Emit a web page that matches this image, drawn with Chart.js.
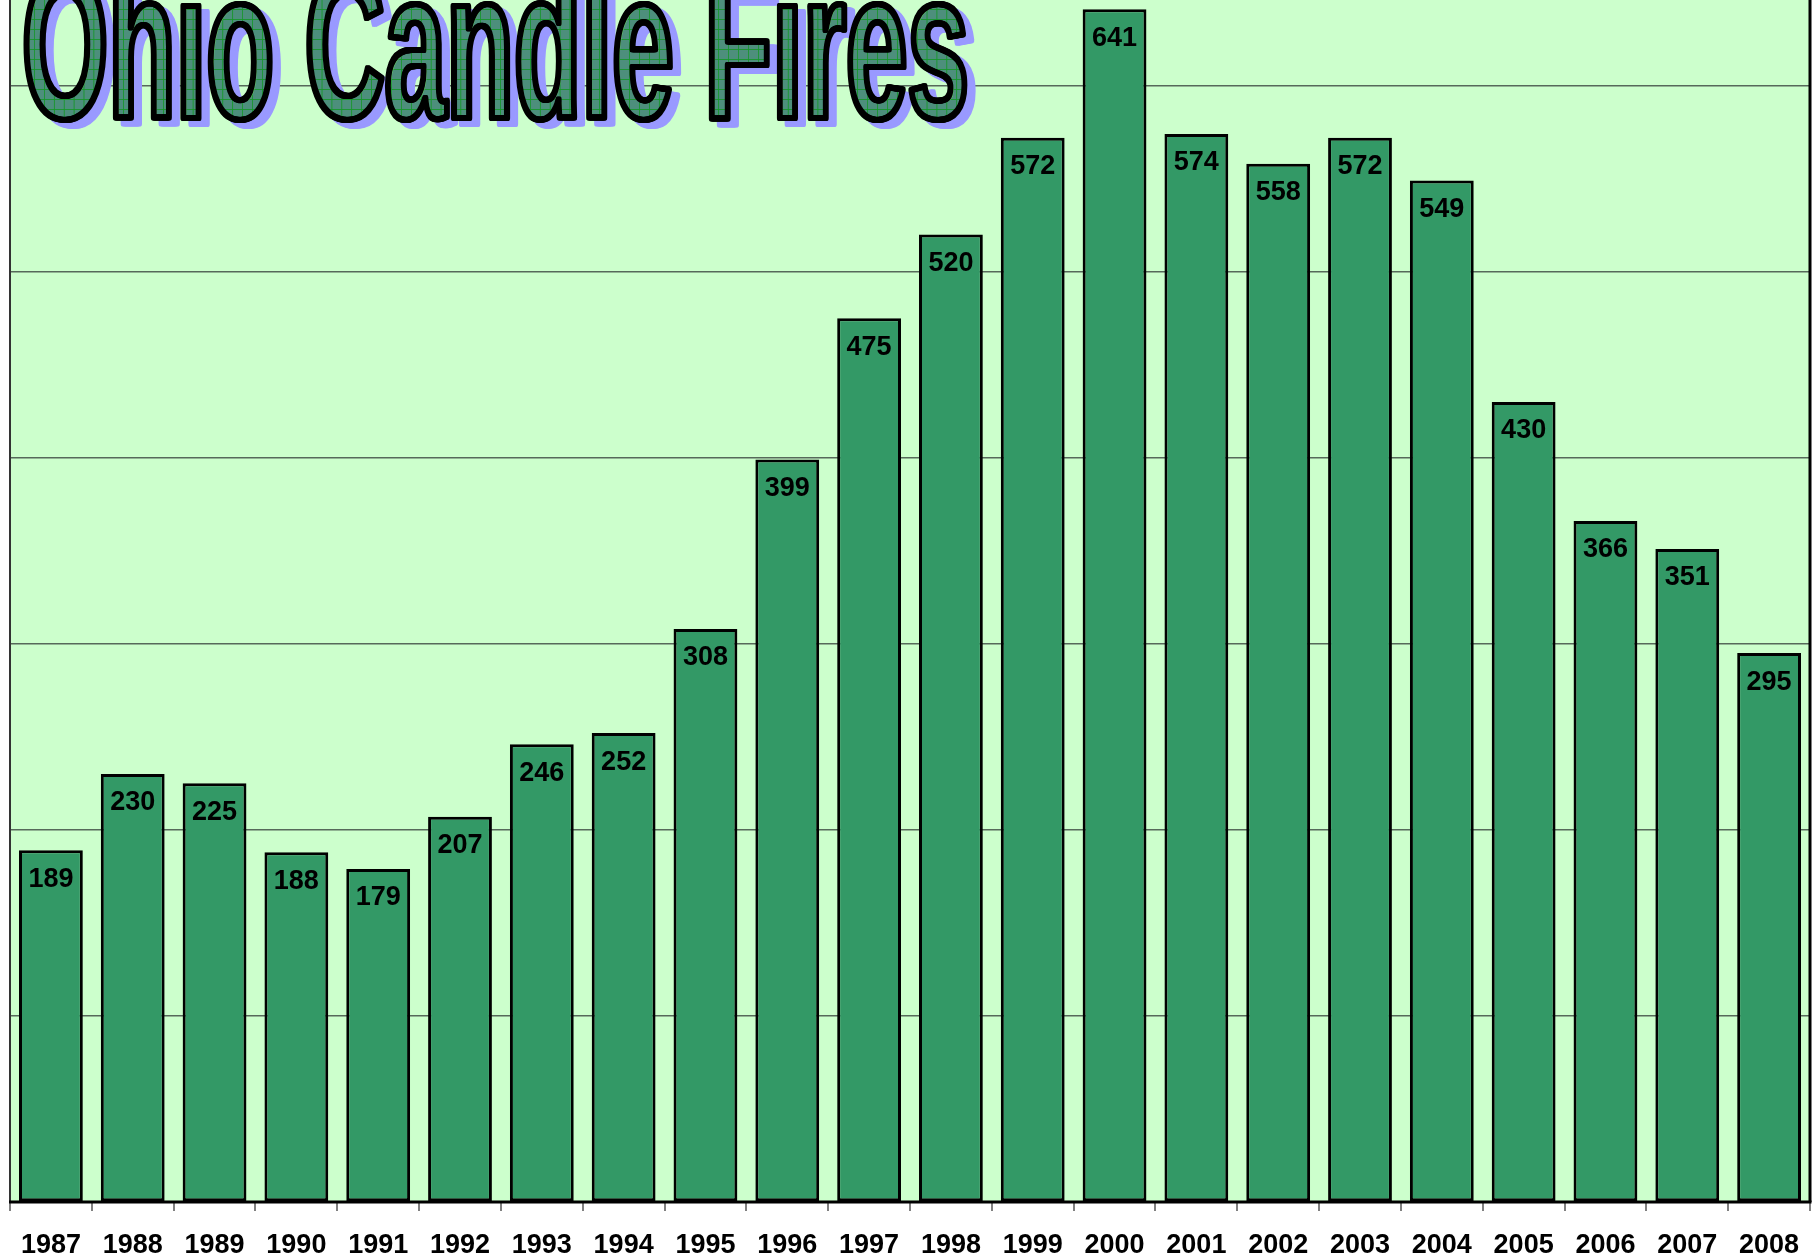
<!DOCTYPE html>
<html>
<head>
<meta charset="utf-8">
<title>Ohio Candle Fires</title>
<script src="https://cdn.jsdelivr.net/npm/chart.js@4/dist/chart.umd.min.js"></script>
<style>
  html, body { margin: 0; padding: 0; background: #ffffff; }
  #wrap { width: 1818px; height: 1257px; position: relative; }
</style>
</head>
<body>
<div id="wrap"><canvas id="c" width="1818" height="1257" aria-label="Ohio Candle Fires"></canvas></div>
<script>
// ---- data ----
const chartTitle = 'Ohio Candle Fires';
const years = ['1987','1988','1989','1990','1991','1992','1993','1994','1995','1996','1997',
               '1998','1999','2000','2001','2002','2003','2004','2005','2006','2007','2008'];
const fires = [189, 230, 225, 188, 179, 207, 246, 252, 308, 399, 475,
               520, 572, 641, 574, 558, 572, 549, 430, 366, 351, 295];
const gridStep = 100;
const axisMax = 646;

// ---- plugins ----
const plotBg = {
  id: 'plotBg',
  beforeDraw(chart) {
    const a = chart.chartArea, ctx = chart.ctx;
    ctx.save();
    ctx.fillStyle = '#CCFFCC';
    ctx.fillRect(a.left, a.top, a.right - a.left, a.bottom - a.top);
    ctx.restore();
  },
  afterDatasetsDraw(chart) {
    const a = chart.chartArea, ctx = chart.ctx;
    ctx.save();
    ctx.strokeStyle = '#333333';
    ctx.lineWidth = 2;
    ctx.beginPath(); ctx.moveTo(a.left, a.top); ctx.lineTo(a.left, a.bottom); ctx.stroke();
    ctx.strokeStyle = '#000000';
    ctx.lineWidth = 3;
    ctx.beginPath(); ctx.moveTo(a.right, a.top); ctx.lineTo(a.right, a.bottom); ctx.stroke();
    ctx.beginPath(); ctx.moveTo(a.left - 1, a.bottom); ctx.lineTo(a.right + 1.5, a.bottom); ctx.stroke();
    ctx.restore();
  }
};

const valueLabels = {
  id: 'valueLabels',
  afterDatasetsDraw(chart) {
    const ctx = chart.ctx;
    const meta = chart.getDatasetMeta(0);
    const data = chart.data.datasets[0].data;
    ctx.save();
    ctx.font = 'bold 27px "Liberation Sans", Arial, sans-serif';
    ctx.fillStyle = '#000000';
    ctx.textAlign = 'center';
    ctx.textBaseline = 'middle';
    meta.data.forEach((bar, i) => {
      ctx.fillText(String(data[i]), bar.x, bar.y + 29);
    });
    ctx.restore();
  }
};

const wordArt = {
  id: 'wordArt',
  afterDraw(chart) {
    const text = chart.options.plugins.title.text;
    const W = chart.width, H = 170;
    const off = document.createElement('canvas');
    off.width = W; off.height = H;
    const o = off.getContext('2d');
    const sx = 0.522, x0 = 22, base = 118;
    const font = 'bold 212px "Liberation Sans", Arial, sans-serif';
    // pattern
    const pc = document.createElement('canvas');
    pc.width = 19; pc.height = 10;
    const p = pc.getContext('2d');
    p.fillStyle = '#4d8f7c';
    p.fillRect(0, 0, 19, 10);
    p.strokeStyle = 'rgba(20,150,40,0.85)';
    p.lineWidth = 1;
    p.beginPath(); p.moveTo(0, 9.5); p.lineTo(19, 9.5); p.stroke();
    p.lineWidth = 1.9;
    p.beginPath(); p.moveTo(18, 0); p.lineTo(18, 10); p.stroke();
    const pattern = o.createPattern(pc, 'repeat');

    function put(dx, dy) {
      o.setTransform(sx, 0, 0, 1, x0 + dx, base + dy);
    }
    o.font = font;
    o.textBaseline = 'alphabetic';
    o.lineJoin = 'round';
    // 1. light green base
    put(0, 0);
    o.fillStyle = '#66cc66';
    o.fillText(text, 0, 0);
    // 2. pattern fill shifted, only within glyphs
    o.globalCompositeOperation = 'source-atop';
    put(3, 2);
    o.fillStyle = pattern;
    o.fillText(text, 0, 0);
    // 3. black outline
    o.globalCompositeOperation = 'source-over';
    o.strokeStyle = '#000000';
    o.lineWidth = 6;
    [-1.4, -0.7, 0, 0.7, 1.4].forEach(d => { put(d, 0); o.strokeText(text, 0, 0); });
    // 4. blue shadow behind
    o.globalCompositeOperation = 'destination-over';
    o.fillStyle = '#9999ff';
    o.strokeStyle = '#9999ff';
    [-1.5, 0, 1.5].forEach(d => { put(8 + d, 6); o.fillText(text, 0, 0); o.strokeText(text, 0, 0); });
    o.setTransform(1, 0, 0, 1, 0, 0);
    o.globalCompositeOperation = 'source-over';
    chart.ctx.save();
    chart.ctx.drawImage(off, 0, 0);
    chart.ctx.restore();
  }
};

// ---- chart ----
new Chart(document.getElementById('c'), {
  type: 'bar',
  data: {
    labels: years,
    datasets: [{
      data: fires,
      backgroundColor: '#339966',
      borderColor: '#000000',
      borderWidth: 3,
      borderSkipped: false,
      categoryPercentage: 1.0,
      barPercentage: 0.78
    }]
  },
  options: {
    responsive: false,
    devicePixelRatio: 1,
    animation: false,
    layout: { padding: { left: 10, right: 8, top: 0, bottom: 0 } },
    plugins: {
      legend: { display: false },
      tooltip: { enabled: false },
      title: { display: false, text: chartTitle }
    },
    scales: {
      x: {
        grid: {
          offset: true,
          drawOnChartArea: false,
          drawTicks: true,
          tickLength: 9,
          color: '#808080',
          lineWidth: 2
        },
        border: { display: false },
        ticks: {
          color: '#000000',
          font: { family: '"Liberation Sans", Arial, sans-serif', size: 27, weight: 'bold' },
          padding: 18,
          maxRotation: 0,
          autoSkip: false
        },
        afterFit(s) { s.height = 55; }
      },
      y: {
        min: 0,
        max: axisMax,
        ticks: { display: false, stepSize: gridStep },
        afterBuildTicks(s) { s.ticks = s.ticks.filter(t => t.value % gridStep === 0); },
        grid: { color: '#56695a', lineWidth: 1.5, drawTicks: false },
        border: { display: false },
        afterFit(s) { s.width = 0; }
      }
    }
  },
  plugins: [plotBg, valueLabels, wordArt]
});
</script>
</body>
</html>
